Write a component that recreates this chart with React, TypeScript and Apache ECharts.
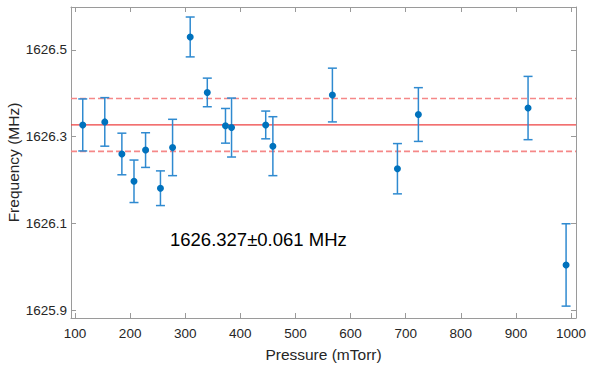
import React, { useEffect, useRef } from "react";
import * as echarts from "echarts";

const pressure = [114, 154, 185, 207, 228, 255, 277, 309, 340, 373, 384, 446, 459, 567, 685, 723, 922, 991];
const frequency = [1626.327, 1626.334, 1626.260, 1626.197, 1626.269, 1626.181, 1626.275, 1626.530, 1626.402, 1626.325, 1626.321, 1626.327, 1626.278, 1626.396, 1626.226, 1626.351, 1626.366, 1626.004];
const errors = [0.060, 0.056, 0.048, 0.049, 0.040, 0.040, 0.065, 0.046, 0.033, 0.040, 0.068, 0.032, 0.068, 0.062, 0.058, 0.062, 0.073, 0.095];
const meanValue = 1626.327;
const stdValue = 0.061;
const xTicks = [100, 200, 300, 400, 500, 600, 700, 800, 900, 1000];
const yTicks = [1625.9, 1626.1, 1626.3, 1626.5];
const annotation = "1626.327±0.061 MHz";

const FONT = "'Liberation Sans', Arial, Helvetica, sans-serif";
const AXIS_COLOR = "#9a9a9a";
const LABEL_COLOR = "#262626";
const POINT_COLOR = "#0072BD";
const BAR_COLOR = "#2f8ad0";

export default function App() {
  const ref = useRef<HTMLDivElement>(null);
  useEffect(() => {
    document.body.style.margin = "0";
    const chart = echarts.init(ref.current!, null, { renderer: "svg" });
    const xMin = 92.7, xMax = 1009;
    const yMin = 1625.8816, yMax = 1626.5991;
    const errData = pressure.map((p, i) => [p, frequency[i] - errors[i], frequency[i] + errors[i]]);
    const pts = pressure.map((p, i) => [p, frequency[i]]);
    const hLine = (v: number) => [[xMin, v], [xMax, v]];
    const baseX = {
      type: "value" as const,
      min: xMin,
      max: xMax,
      splitLine: { show: false },
      axisLine: { show: true, onZero: false, lineStyle: { color: AXIS_COLOR, width: 1 } },
      axisTick: { show: true, inside: true, length: 5, customValues: xTicks, lineStyle: { color: AXIS_COLOR } },
    };
    const baseY = {
      type: "value" as const,
      min: yMin,
      max: yMax,
      splitLine: { show: false },
      axisLine: { show: true, onZero: false, lineStyle: { color: AXIS_COLOR, width: 1 } },
      axisTick: { show: true, inside: true, length: 5, customValues: yTicks, lineStyle: { color: AXIS_COLOR } },
    };
    const lineSeries = (v: number, color: string, width: number, type: any) => ({
      type: "line",
      xAxisIndex: 0,
      yAxisIndex: 0,
      data: hLine(v),
      symbol: "none",
      silent: true,
      z: 1,
      lineStyle: { color, width, type },
    });
    chart.setOption({
      animation: false,
      backgroundColor: "#ffffff",
      textStyle: { fontFamily: FONT },
      grid: { left: 71, right: 22, top: 7, bottom: 47, containLabel: false, outerBoundsMode: "none" },
      xAxis: [
        {
          ...baseX,
          position: "bottom",
          name: "Pressure (mTorr)",
          nameLocation: "middle",
          nameGap: 28,
          nameMoveOverlap: false,
          nameTextStyle: { fontSize: 15.5, color: LABEL_COLOR, fontFamily: FONT },
          axisLabel: {
            show: true,
            customValues: xTicks,
            fontSize: 13.5,
            color: LABEL_COLOR,
            fontFamily: FONT,
            margin: 8,
            formatter: (v: number) => String(Math.round(v)),
          },
        },
        { ...baseX, position: "top", axisLabel: { show: false } },
      ],
      yAxis: [
        {
          ...baseY,
          position: "left",
          name: "Frequency (MHz)",
          nameLocation: "middle",
          nameGap: 50,
          nameMoveOverlap: false,
          nameTextStyle: { fontSize: 15.5, color: LABEL_COLOR, fontFamily: FONT },
          axisLabel: {
            show: true,
            customValues: yTicks,
            fontSize: 13.5,
            color: LABEL_COLOR,
            fontFamily: FONT,
            margin: 4,
            formatter: (v: number) => v.toFixed(1),
          },
        },
        { ...baseY, position: "right", axisLabel: { show: false } },
      ],
      series: [
        lineSeries(meanValue, "#ee4040", 1.2, "solid"),
        lineSeries(meanValue + stdValue, "#f58888", 1.6, [6, 3]),
        lineSeries(meanValue - stdValue, "#f58888", 1.6, [6, 3]),
        {
          type: "custom",
          xAxisIndex: 0,
          yAxisIndex: 0,
          data: errData,
          z: 3,
          renderItem: (params: any, api: any) => {
            const x = api.value(0);
            const lo = api.value(1);
            const hi = api.value(2);
            const pHi = api.coord([x, hi]);
            const pLo = api.coord([x, lo]);
            const w = 4.5;
            const style = { stroke: BAR_COLOR, lineWidth: 1.5 };
            return {
              type: "group",
              children: [
                { type: "line", shape: { x1: pHi[0], y1: pHi[1], x2: pLo[0], y2: pLo[1] }, style },
                { type: "line", shape: { x1: pHi[0] - w, y1: pHi[1], x2: pHi[0] + w, y2: pHi[1] }, style },
                { type: "line", shape: { x1: pLo[0] - w, y1: pLo[1], x2: pLo[0] + w, y2: pLo[1] }, style },
              ],
            };
          },
        },
        {
          type: "scatter",
          xAxisIndex: 0,
          yAxisIndex: 0,
          data: pts,
          symbol: "circle",
          symbolSize: 7,
          z: 4,
          itemStyle: { color: POINT_COLOR, opacity: 1 },
        },
      ],
      graphic: [
        {
          type: "text",
          left: 170,
          top: 230,
          style: { text: annotation, fontSize: 18.5, fill: "#000000", fontFamily: FONT },
        },
      ],
    });
    return () => chart.dispose();
  }, []);
  return <div ref={ref} style={{ width: 598, height: 365, position: "absolute", left: 0, top: 0 }} />;
}
